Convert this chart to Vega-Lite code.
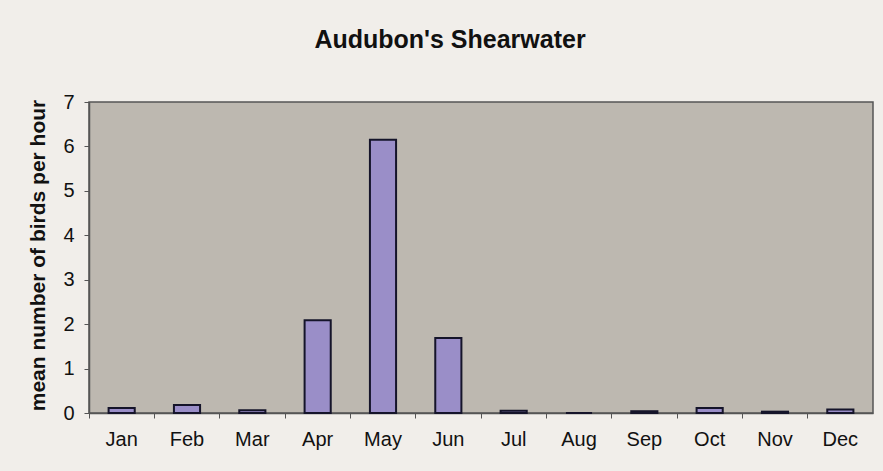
{
  "$schema": "https://vega.github.io/schema/vega-lite/v6.json",
  "autosize": {"type": "none"},
  "padding": {"left": 89, "top": 102, "right": 10, "bottom": 58},
  "width": 784,
  "height": 311,
  "background": "#f1eeea",
  "title": {
    "text": "Audubon's Shearwater",
    "font": "Liberation Sans",
    "fontSize": 25,
    "fontWeight": "bold",
    "color": "#111111",
    "anchor": "middle",
    "frame": "group",
    "dx": -31,
    "offset": 19,
    "baseline": "alphabetic"
  },
  "data": {
    "values": [
      {"month": "Jan", "value": 0.11},
      {"month": "Feb", "value": 0.18},
      {"month": "Mar", "value": 0.06},
      {"month": "Apr", "value": 2.09},
      {"month": "May", "value": 6.15},
      {"month": "Jun", "value": 1.69},
      {"month": "Jul", "value": 0.05},
      {"month": "Aug", "value": 0.0},
      {"month": "Sep", "value": 0.04},
      {"month": "Oct", "value": 0.11},
      {"month": "Nov", "value": 0.03},
      {"month": "Dec", "value": 0.08}
    ]
  },
  "mark": {
    "type": "bar",
    "width": {"band": 0.4},
    "fill": "#9a8ec8",
    "stroke": "#15142a",
    "strokeWidth": 2
  },
  "encoding": {
    "x": {
      "field": "month",
      "type": "ordinal",
      "sort": null,
      "scale": {"paddingInner": 0, "paddingOuter": 0},
      "axis": {
        "title": null,
        "labelAngle": 0,
        "labelFont": "Liberation Sans",
        "labelFontSize": 20,
        "labelColor": "#111111",
        "labelPadding": 11,
        "bandPosition": 0,
        "tickSize": 5,
        "tickColor": "#555555",
        "domainColor": "#555555",
        "domainWidth": 1.5,
        "grid": false
      }
    },
    "y": {
      "field": "value",
      "type": "quantitative",
      "scale": {"domain": [0, 7], "nice": false},
      "axis": {
        "title": "mean number of birds per hour",
        "titleFont": "Liberation Sans",
        "titleFontSize": 21,
        "titleFontWeight": "bold",
        "titleColor": "#111111",
        "titleX": -51,
        "titleY": 153,
        "titleAngle": -90,
        "titleAlign": "center",
        "titleBaseline": "middle",
        "values": [0, 1, 2, 3, 4, 5, 6, 7],
        "labelFont": "Liberation Sans",
        "labelFontSize": 20,
        "labelColor": "#111111",
        "labelPadding": 10,
        "tickSize": 5,
        "tickColor": "#555555",
        "domainColor": "#555555",
        "domainWidth": 1.5,
        "grid": false
      }
    }
  },
  "config": {
    "view": {"fill": "#bdb8b0", "stroke": "#555555", "strokeWidth": 1.5}
  }
}
